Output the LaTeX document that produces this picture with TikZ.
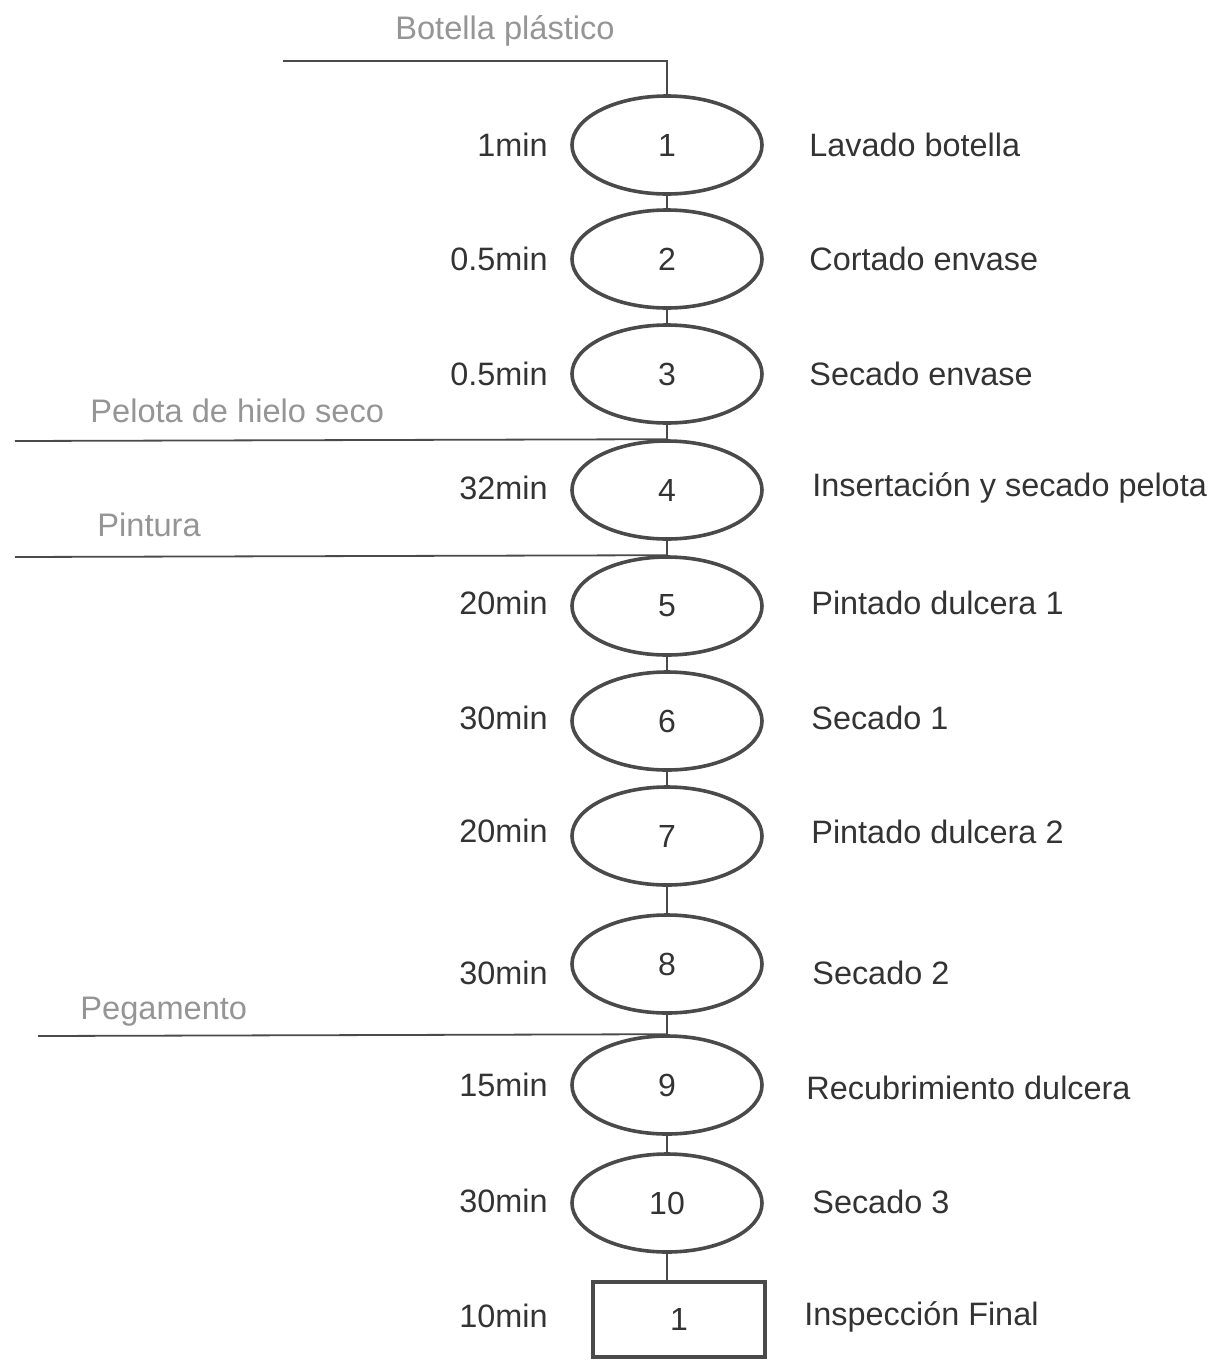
\documentclass[tikz,border=0pt]{standalone}
\usepackage{fontspec}
\setmainfont{Liberation Sans}
\usetikzlibrary{shapes.geometric}
\definecolor{inkc}{HTML}{333333}
\definecolor{linec}{HTML}{4A4A4A}
\definecolor{grayc}{HTML}{959595}
\begin{document}
\begin{tikzpicture}[x=0.5pt,y=-0.5pt,
  op/.style={ellipse,draw=linec,line width=1.8pt,minimum width=95pt,minimum height=49pt,inner sep=0pt,text=inkc,font=\fontsize{16}{19}\selectfont},
  insp/.style={rectangle,draw=linec,line width=2pt,minimum width=86pt,minimum height=37.5pt,inner sep=0pt,text=inkc,font=\fontsize{16}{19}\selectfont},
  tlabel/.style={anchor=east,text=inkc,inner sep=0pt,font=\fontsize{16.2}{19}\selectfont},
  dlabel/.style={anchor=west,text=inkc,inner sep=0pt,font=\fontsize{16.2}{19}\selectfont},
  inlabel/.style={text=grayc,inner sep=0pt,font=\fontsize{16.3}{19}\selectfont},
  conn/.style={draw=linec,line width=0.9pt}]
\useasboundingbox (0,0) rectangle (1218,1360);
% operations
\node[op] (e1) at (667,145) {1};
\node[op] (e2) at (667,259) {2};
\node[op] (e3) at (667,374) {3};
\node[op] (e4) at (667,490) {4};
\node[op] (e5) at (667,606) {5};
\node[op] (e6) at (667,721) {6};
\node[op] (e7) at (667,836) {7};
\node[op] (e8) at (667,964) {8};
\node[op] (e9) at (667,1085) {9};
\node[op] (e10) at (667,1203) {10};
\node[insp] (b1) at (679,1319.5) {1};
% connectors
\draw[conn] (e1.south) -- (e2.north);
\draw[conn] (e2.south) -- (e3.north);
\draw[conn] (e3.south) -- (e4.north);
\draw[conn] (e4.south) -- (e5.north);
\draw[conn] (e5.south) -- (e6.north);
\draw[conn] (e6.south) -- (e7.north);
\draw[conn] (e7.south) -- (e8.north);
\draw[conn] (e8.south) -- (e9.north);
\draw[conn] (e9.south) -- (e10.north);
\draw[conn] (e10.south) -- (e10.south |- b1.north);
% inputs
\coordinate (in1) at (283,61);
\coordinate (in4) at (15,441);
\coordinate (in5) at (15,557);
\coordinate (in9) at (38,1036);
\draw[conn] (in1) -| (e1.north);
\draw[conn] (in4) -- (e4.north);
\draw[conn] (in5) -- (e5.north);
\draw[conn] (in9) -- (e9.north);
\node[inlabel] (lbp) at (505,31) {Botella plástico};
\node[inlabel,anchor=west] (lph) at (90,411) {Pelota de hielo seco};
\node[inlabel,anchor=west] (lpi) at (97,525) {Pintura};
\node[inlabel,anchor=west] (lpe) at (80,1012) {Pegamento};
% times
\node[tlabel] (t1) at (548,145) {1min};
\node[tlabel] (t2) at (548,259) {0.5min};
\node[tlabel] (t3) at (548,374) {0.5min};
\node[tlabel] (t4) at (548,488) {32min};
\node[tlabel] (t5) at (548,603) {20min};
\node[tlabel] (t6) at (548,718) {30min};
\node[tlabel] (t7) at (548,831) {20min};
\node[tlabel] (t8) at (548,973) {30min};
\node[tlabel] (t9) at (548,1085) {15min};
\node[tlabel] (t10) at (548,1201) {30min};
\node[tlabel] (t11) at (548,1316) {10min};
% descriptions
\node[dlabel] (d1) at (809,145) {Lavado botella};
\node[dlabel] (d2) at (809,259) {Cortado envase};
\node[dlabel] (d3) at (809,374) {Secado envase};
\node[dlabel] (d4) at (812,488) {Insertación y secado pelota};
\node[dlabel] (d5) at (811,603) {Pintado dulcera 1};
\node[dlabel] (d6) at (811,718) {Secado 1};
\node[dlabel] (d7) at (811,832) {Pintado dulcera 2};
\node[dlabel] (d8) at (812,973) {Secado 2};
\node[dlabel] (d9) at (806,1088) {Recubrimiento dulcera};
\node[dlabel] (d10) at (812,1202) {Secado 3};
\node[dlabel] (d11) at (804,1317) {Inspección Final};
\end{tikzpicture}
\end{document}
